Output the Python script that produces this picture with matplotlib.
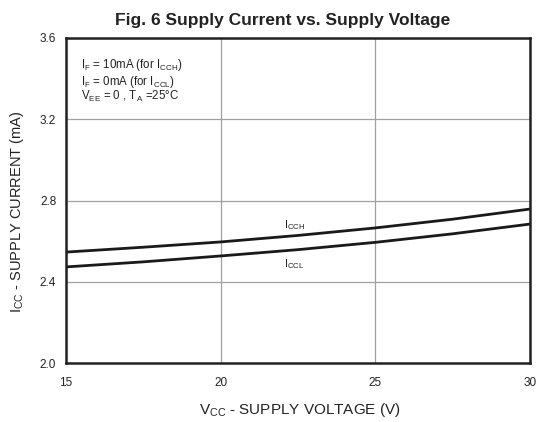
import matplotlib
matplotlib.use("Agg")
import matplotlib.pyplot as plt

plt.rcParams['font.family'] = ['Liberation Sans', 'DejaVu Sans']
plt.rcParams['mathtext.fontset'] = 'custom'
plt.rcParams['mathtext.rm'] = 'Liberation Sans'
plt.rcParams['mathtext.it'] = 'Liberation Sans'

vcc = [15, 17.5, 20, 22.5, 25, 27.5, 30]
icch = [2.546, 2.570, 2.596, 2.628, 2.665, 2.708, 2.758]
iccl = [2.473, 2.498, 2.527, 2.558, 2.594, 2.636, 2.684]
xticks = [15, 20, 25, 30]
yticks = [2.0, 2.4, 2.8, 3.2, 3.6]

fig = plt.figure(figsize=(5.4, 4.22), dpi=100)
ax = fig.add_axes([66/540, 1-363/422, (530-66)/540, (363-38)/422])

ax.plot(vcc, icch, color='#1a1a1a', lw=2.0)
ax.plot(vcc, iccl, color='#1a1a1a', lw=2.0)

ax.set_xlim(15, 30)
ax.set_ylim(2.0, 3.6)
ax.set_xticks(xticks)
ax.set_yticks(yticks)
ax.set_xticklabels([str(t) for t in xticks])
ax.set_yticklabels([f"{t:.1f}" for t in yticks])
ax.tick_params(axis='both', length=0, labelsize=8.5, colors='#222222')
ax.tick_params(axis='x', pad=10)
ax.tick_params(axis='y', pad=7)
ax.grid(True, color='#a0a0a0', lw=0.9)
for s in ax.spines.values():
    s.set_color('#222222')
    s.set_linewidth(1.8)

fig.text(300/540, 1-414/422, r'V$_{\mathregular{CC}}$ - SUPPLY VOLTAGE (V)', fontsize=11,
         color='#222222', ha='center', va='baseline')
fig.text(17/540, 1-212/422, r'I$_{\mathregular{CC}}$ - SUPPLY CURRENT (mA)', fontsize=10.5,
         color='#222222', ha='center', va='center', rotation=90)
fig.text(283/540, 1-25/422, 'Fig. 6 Supply Current vs. Supply Voltage', fontsize=12.5,
         fontweight='bold', color='#222222', ha='center', va='baseline')

ax.text(22.05, 2.665, r'I$_{\mathregular{CCH}}$', fontsize=8, color='#222222')
ax.text(22.05, 2.47, r'I$_{\mathregular{CCL}}$', fontsize=8, color='#222222')

ax.text(15.5, 3.452, r'I$_{\mathregular{F}}$ = 10mA (for I$_{\mathregular{CCH}}$)', fontsize=8.3, color='#222222', va='baseline')
ax.text(15.5, 3.37, r'I$_{\mathregular{F}}$ = 0mA (for I$_{\mathregular{CCL}}$)', fontsize=8.3, color='#222222', va='baseline')
ax.text(15.5, 3.295, r'V$_{\mathregular{EE}}$ = 0 , T$_{\mathregular{A}}$ =25°C', fontsize=8.3, color='#222222', va='baseline')

fig.savefig('out.png', dpi=100)
